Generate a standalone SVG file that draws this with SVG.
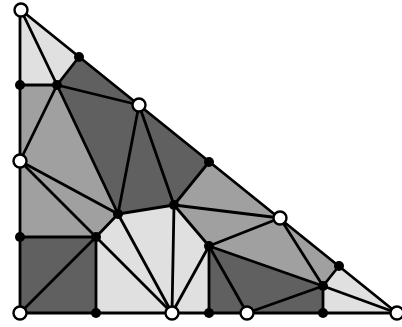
<svg xmlns="http://www.w3.org/2000/svg" width="402" height="327" viewBox="0 0 402 327">
<style>
.l{fill:#e0e0e0}.m{fill:#a0a0a0}.d{fill:#606060}
#connectors line{stroke:#000;stroke-width:2.8;stroke-linecap:round}
.w{fill:#fff;stroke:#000;stroke-width:2.4}
.b{fill:#000}
</style>
<rect width="402" height="327" fill="#fff"/>
<g id="faces">
<polygon class="l" points="21,10 79,57 57,85"/>
<polygon class="l" points="21,10 57,85 20,85"/>
<polygon class="l" points="96,237 96,313 172,313"/>
<polygon class="l" points="96,237 118,214 172,313"/>
<polygon class="l" points="118,214 174,205 172,313"/>
<polygon class="l" points="174,205 172,313 209,246"/>
<polygon class="l" points="172,313 209,246 209,313"/>
<polygon class="l" points="339,266 323,286 397,313"/>
<polygon class="l" points="323,286 323,313 397,313"/>
<polygon class="m" points="20,85 57,85 20,161"/>
<polygon class="m" points="57,85 20,161 118,214"/>
<polygon class="m" points="20,161 118,214 96,237"/>
<polygon class="m" points="20,161 20,237 96,237"/>
<polygon class="m" points="209,162 280,218 174,205"/>
<polygon class="m" points="174,205 280,218 209,246"/>
<polygon class="m" points="209,246 280,218 323,286"/>
<polygon class="m" points="280,218 339,266 323,286"/>
<polygon class="d" points="79,57 139,105 57,85"/>
<polygon class="d" points="57,85 139,105 118,214"/>
<polygon class="d" points="139,105 118,214 174,205"/>
<polygon class="d" points="139,105 209,162 174,205"/>
<polygon class="d" points="20,237 96,237 20,313"/>
<polygon class="d" points="96,237 20,313 96,313"/>
<polygon class="d" points="209,246 209,313 247,313"/>
<polygon class="d" points="209,246 247,313 323,286"/>
<polygon class="d" points="247,313 323,286 323,313"/>
</g>
<g id="connectors">
<line x1="21" y1="10" x2="397" y2="313"/>
<line x1="20" y1="10" x2="20" y2="313"/>
<line x1="20" y1="313" x2="397" y2="313"/>
<line x1="21" y1="10" x2="57" y2="85"/>
<line x1="79" y1="57" x2="57" y2="85"/>
<line x1="20" y1="85" x2="57" y2="85"/>
<line x1="57" y1="85" x2="139" y2="105"/>
<line x1="57" y1="85" x2="20" y2="161"/>
<line x1="57" y1="85" x2="118" y2="214"/>
<line x1="139" y1="105" x2="118" y2="214"/>
<line x1="139" y1="105" x2="174" y2="205"/>
<line x1="209" y1="162" x2="174" y2="205"/>
<line x1="118" y1="214" x2="174" y2="205"/>
<line x1="20" y1="161" x2="118" y2="214"/>
<line x1="20" y1="161" x2="96" y2="237"/>
<line x1="118" y1="214" x2="96" y2="237"/>
<line x1="20" y1="237" x2="96" y2="237"/>
<line x1="96" y1="237" x2="20" y2="313"/>
<line x1="96" y1="237" x2="96" y2="313"/>
<line x1="96" y1="237" x2="172" y2="313"/>
<line x1="118" y1="214" x2="172" y2="313"/>
<line x1="174" y1="205" x2="172" y2="313"/>
<line x1="174" y1="205" x2="209" y2="246"/>
<line x1="172" y1="313" x2="209" y2="246"/>
<line x1="174" y1="205" x2="280" y2="218"/>
<line x1="209" y1="246" x2="280" y2="218"/>
<line x1="209" y1="246" x2="209" y2="313"/>
<line x1="209" y1="246" x2="247" y2="313"/>
<line x1="209" y1="246" x2="323" y2="286"/>
<line x1="280" y1="218" x2="323" y2="286"/>
<line x1="339" y1="266" x2="323" y2="286"/>
<line x1="323" y1="286" x2="397" y2="313"/>
<line x1="323" y1="286" x2="323" y2="313"/>
<line x1="247" y1="313" x2="323" y2="286"/>
</g>
<g id="nA"><circle class="w" cx="21" cy="10" r="6.5"/></g>
<g id="nB"><circle class="b" cx="79" cy="57" r="5"/></g>
<g id="nC"><circle class="b" cx="20" cy="85" r="5"/></g>
<g id="nD"><circle class="b" cx="57" cy="85" r="5"/></g>
<g id="nE"><circle class="w" cx="139" cy="105" r="6.5"/></g>
<g id="nF"><circle class="w" cx="20" cy="161" r="6.5"/></g>
<g id="nG"><circle class="b" cx="209" cy="162" r="5"/></g>
<g id="nH"><circle class="b" cx="118" cy="214" r="5"/></g>
<g id="nI"><circle class="b" cx="174" cy="205" r="5"/></g>
<g id="nJ"><circle class="w" cx="280" cy="218" r="6.5"/></g>
<g id="nK"><circle class="b" cx="20" cy="237" r="5"/></g>
<g id="nL"><circle class="b" cx="96" cy="237" r="5"/></g>
<g id="nM"><circle class="b" cx="209" cy="246" r="5"/></g>
<g id="nN"><circle class="b" cx="339" cy="266" r="5"/></g>
<g id="nO"><circle class="b" cx="323" cy="286" r="5"/></g>
<g id="nP"><circle class="w" cx="20" cy="313" r="6.5"/></g>
<g id="nQ"><circle class="b" cx="96" cy="313" r="5"/></g>
<g id="nR"><circle class="w" cx="172" cy="313" r="6.5"/></g>
<g id="nS"><circle class="b" cx="209" cy="313" r="5"/></g>
<g id="nT"><circle class="w" cx="247" cy="313" r="6.5"/></g>
<g id="nU"><circle class="b" cx="323" cy="313" r="5"/></g>
<g id="nV"><circle class="w" cx="397" cy="313" r="6.5"/></g>
</svg>
